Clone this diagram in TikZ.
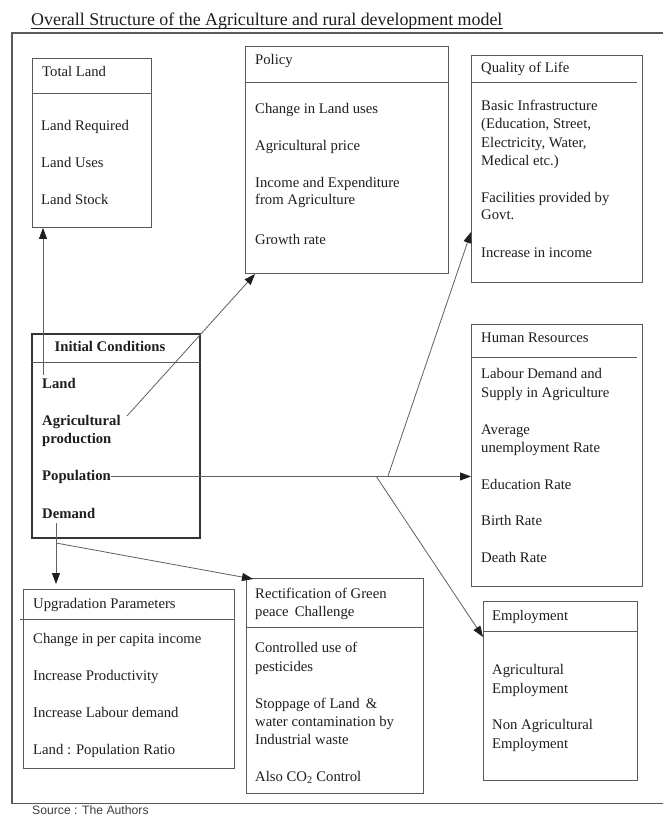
\documentclass[tikz,border=0pt]{standalone}
\usepackage{fontspec}
\setmainfont{Liberation Serif}
\newfontfamily\srcfont{Liberation Sans}
\usetikzlibrary{arrows.meta}

\definecolor{ink}{HTML}{1E1E1E}
\definecolor{rulegray}{HTML}{5A5A5A}
\definecolor{linkgray}{HTML}{606060}

\begin{document}
\begin{tikzpicture}[x=1pt,y=-1pt,
  box/.style={draw=rulegray, line width=0.9pt, anchor=north west, inner sep=0pt},
  rule/.style={draw=rulegray, line width=0.9pt},
  txt/.style={anchor=base west, inner sep=0pt, text=ink, font=\fontsize{14.7}{18}\selectfont},
  btxt/.style={anchor=base west, inner sep=0pt, text=ink, font=\fontsize{14.7}{18}\selectfont\bfseries},
  conn/.style={draw=linkgray, line width=0.8pt, -{Triangle[length=11pt,width=8pt,color=ink]}},
  plain/.style={draw=linkgray, line width=0.8pt}]

% canvas
\fill[white] (0,0) rectangle (663,816);
\useasboundingbox (0,0) rectangle (663,816);

% heading
\node[anchor=base west, inner sep=0pt, text=ink, font=\fontsize{17.9}{20}\selectfont] (title) at (31,26)
  {Overall Structure of the Agriculture and rural development model};
\draw[ink, line width=0.8pt] ([yshift=-2.6pt]title.base west) -- ([yshift=-2.6pt]title.base east);

% outer frame (open to the right)
\draw[rulegray, line width=1.1pt] (663,33) -- (12,33) -- (12,803.5) -- (663,803.5);

% ---------- boxes ----------
\node[box, minimum width=119pt, minimum height=169pt] (tland) at (32,58) {};
\node[box, minimum width=203pt, minimum height=227pt] (policy) at (245,46) {};
\node[box, minimum width=171pt, minimum height=227pt] (qol) at (471,55) {};
\node[box, draw=ink!90, line width=2.4pt, minimum width=168pt, minimum height=204pt] (init) at (31,333) {};
\node[box, minimum width=171pt, minimum height=262pt] (hr) at (471,324) {};
\node[box, minimum width=154pt, minimum height=179pt] (emp) at (483,601) {};
\node[box, minimum width=211pt, minimum height=179pt] (upg) at (23,589) {};
\node[box, minimum width=177pt, minimum height=215pt] (rect) at (246,578) {};

% header dividers
\draw[rule] (tland.west |- 0,93) -- (tland.east |- 0,93);
\draw[rule] (policy.west |- 0,82) -- (policy.east |- 0,82);
\draw[rule] (qol.west |- 0,82) -- (637,82);
\draw[rule] (init.west |- 0,362) -- (init.east |- 0,362);
\draw[rule] (hr.west |- 0,357) -- (637,357);
\draw[rule] (emp.west |- 0,631) -- (emp.east |- 0,631);
\draw[rule] (20,619) -- (upg.east |- 0,619);
\draw[rule] (rect.west |- 0,627) -- (rect.east |- 0,627);

% ---------- Total Land ----------
\node[txt] (tl-h) at (42,76) {Total Land};
\node[txt] (tl-1) at (41,130) {Land Required};
\node[txt] (tl-2) at (41,167) {Land Uses};
\node[txt] (tl-3) at (41,204) {Land Stock};

% ---------- Policy ----------
\node[txt] (po-h) at (255,64) {Policy};
\node[txt] (po-1) at (255,113) {Change in Land uses};
\node[txt] (po-2) at (255,150) {Agricultural price};
\node[txt] (po-3) at (255,187) {Income and Expenditure};
\node[txt] (po-3b) at (255,204) {from Agriculture};
\node[txt] (po-4) at (255,244) {Growth rate};

% ---------- Quality of Life ----------
\node[txt] (ql-h) at (481,73) {Quality of Life};
\node[txt] (ql-1) at (481,110) {Basic Infrastructure};
\node[txt] (ql-1b) at (481,128) {(Education, Street,};
\node[txt] (ql-1c) at (481,147) {Electricity, Water,};
\node[txt] (ql-1d) at (481,165) {Medical etc.)};
\node[txt] (ql-2) at (481,202) {Facilities provided by};
\node[txt] (ql-2b) at (481,219) {Govt.};
\node[txt] (ql-3) at (481,257) {Increase in income};

% ---------- Initial Conditions ----------
\node[btxt, anchor=base] (ic-h) at (110,351) {Initial Conditions};
\node[btxt] (ic-land) at (42,388) {Land};
\node[btxt] (ic-agr) at (42,425) {Agricultural};
\node[btxt] (ic-agrb) at (42,443) {production};
\node[btxt] (ic-pop) at (42,480) {Population};
\node[btxt] (ic-dem) at (42,518) {Demand};

% ---------- Human Resources ----------
\node[txt] (hr-h) at (481,342) {Human Resources};
\node[txt] (hr-1) at (481,378) {Labour Demand and};
\node[txt] (hr-1b) at (481,397) {Supply in Agriculture};
\node[txt] (hr-2) at (481,434) {Average};
\node[txt] (hr-2b) at (481,452) {unemployment Rate};
\node[txt] (hr-3) at (481,489) {Education Rate};
\node[txt] (hr-4) at (481,525) {Birth Rate};
\node[txt] (hr-5) at (481,562) {Death Rate};

% ---------- Employment ----------
\node[txt] (em-h) at (492,620) {Employment};
\node[txt] (em-1) at (492,674) {Agricultural};
\node[txt] (em-1b) at (492,693) {Employment};
\node[txt] (em-2) at (492,729) {Non Agricultural};
\node[txt] (em-2b) at (492,748) {Employment};

% ---------- Upgradation Parameters ----------
\node[txt] (up-h) at (33,608) {Upgradation Parameters};
\node[txt] (up-1) at (33,643) {Change in per capita income};
\node[txt] (up-2) at (33,680) {Increase Productivity};
\node[txt] (up-3) at (33,717) {Increase Labour demand};
\node[txt] (up-4) at (33,754) {Land : Population Ratio};

% ---------- Rectification ----------
\node[txt] (rc-h) at (255,598) {Rectification of Green};
\node[txt] (rc-hb) at (255,616) {peace\, Challenge};
\node[txt] (rc-1) at (255,652) {Controlled use of};
\node[txt] (rc-1b) at (255,671) {pesticides};
\node[txt] (rc-2) at (255,708) {Stoppage of Land\, \&};
\node[txt] (rc-2b) at (255,726) {water contamination by};
\node[txt] (rc-2c) at (255,744) {Industrial waste};
\node[txt] (rc-3) at (255,781) {Also CO\textsubscript{2} Control};

% source line
\node[anchor=base west, inner sep=0pt, text=ink!85, font=\srcfont\fontsize{12.2}{14}\selectfont] (src) at (32,814.2) {Source : The Authors};

% ---------- connectors ----------
\coordinate (landtap) at (43,375);
\coordinate (agtap) at (127,416);
\coordinate (polin) at (255,274);
\coordinate (brq) at (388,476);
\coordinate (bre) at (376,476);
\coordinate (qolin) at (471,232);
\coordinate (empin) at (483,637);
\coordinate (demtap) at (56,523);
\coordinate (demknee) at (56,543);
\coordinate (upgin) at (56,584);
\coordinate (rectin) at (253,579);

\draw[conn] (landtap) -- (landtap |- tland.south);
\draw[conn] (agtap) -- (polin);
\draw[conn] (ic-pop.east) -- (ic-pop.east -| hr.west);
\draw[conn] (brq) -- (qolin);
\draw[conn] (bre) -- (empin);
\draw[conn] (demtap) -- (upgin);
\draw[conn] (demknee) -- (rectin);

\end{tikzpicture}
\end{document}
